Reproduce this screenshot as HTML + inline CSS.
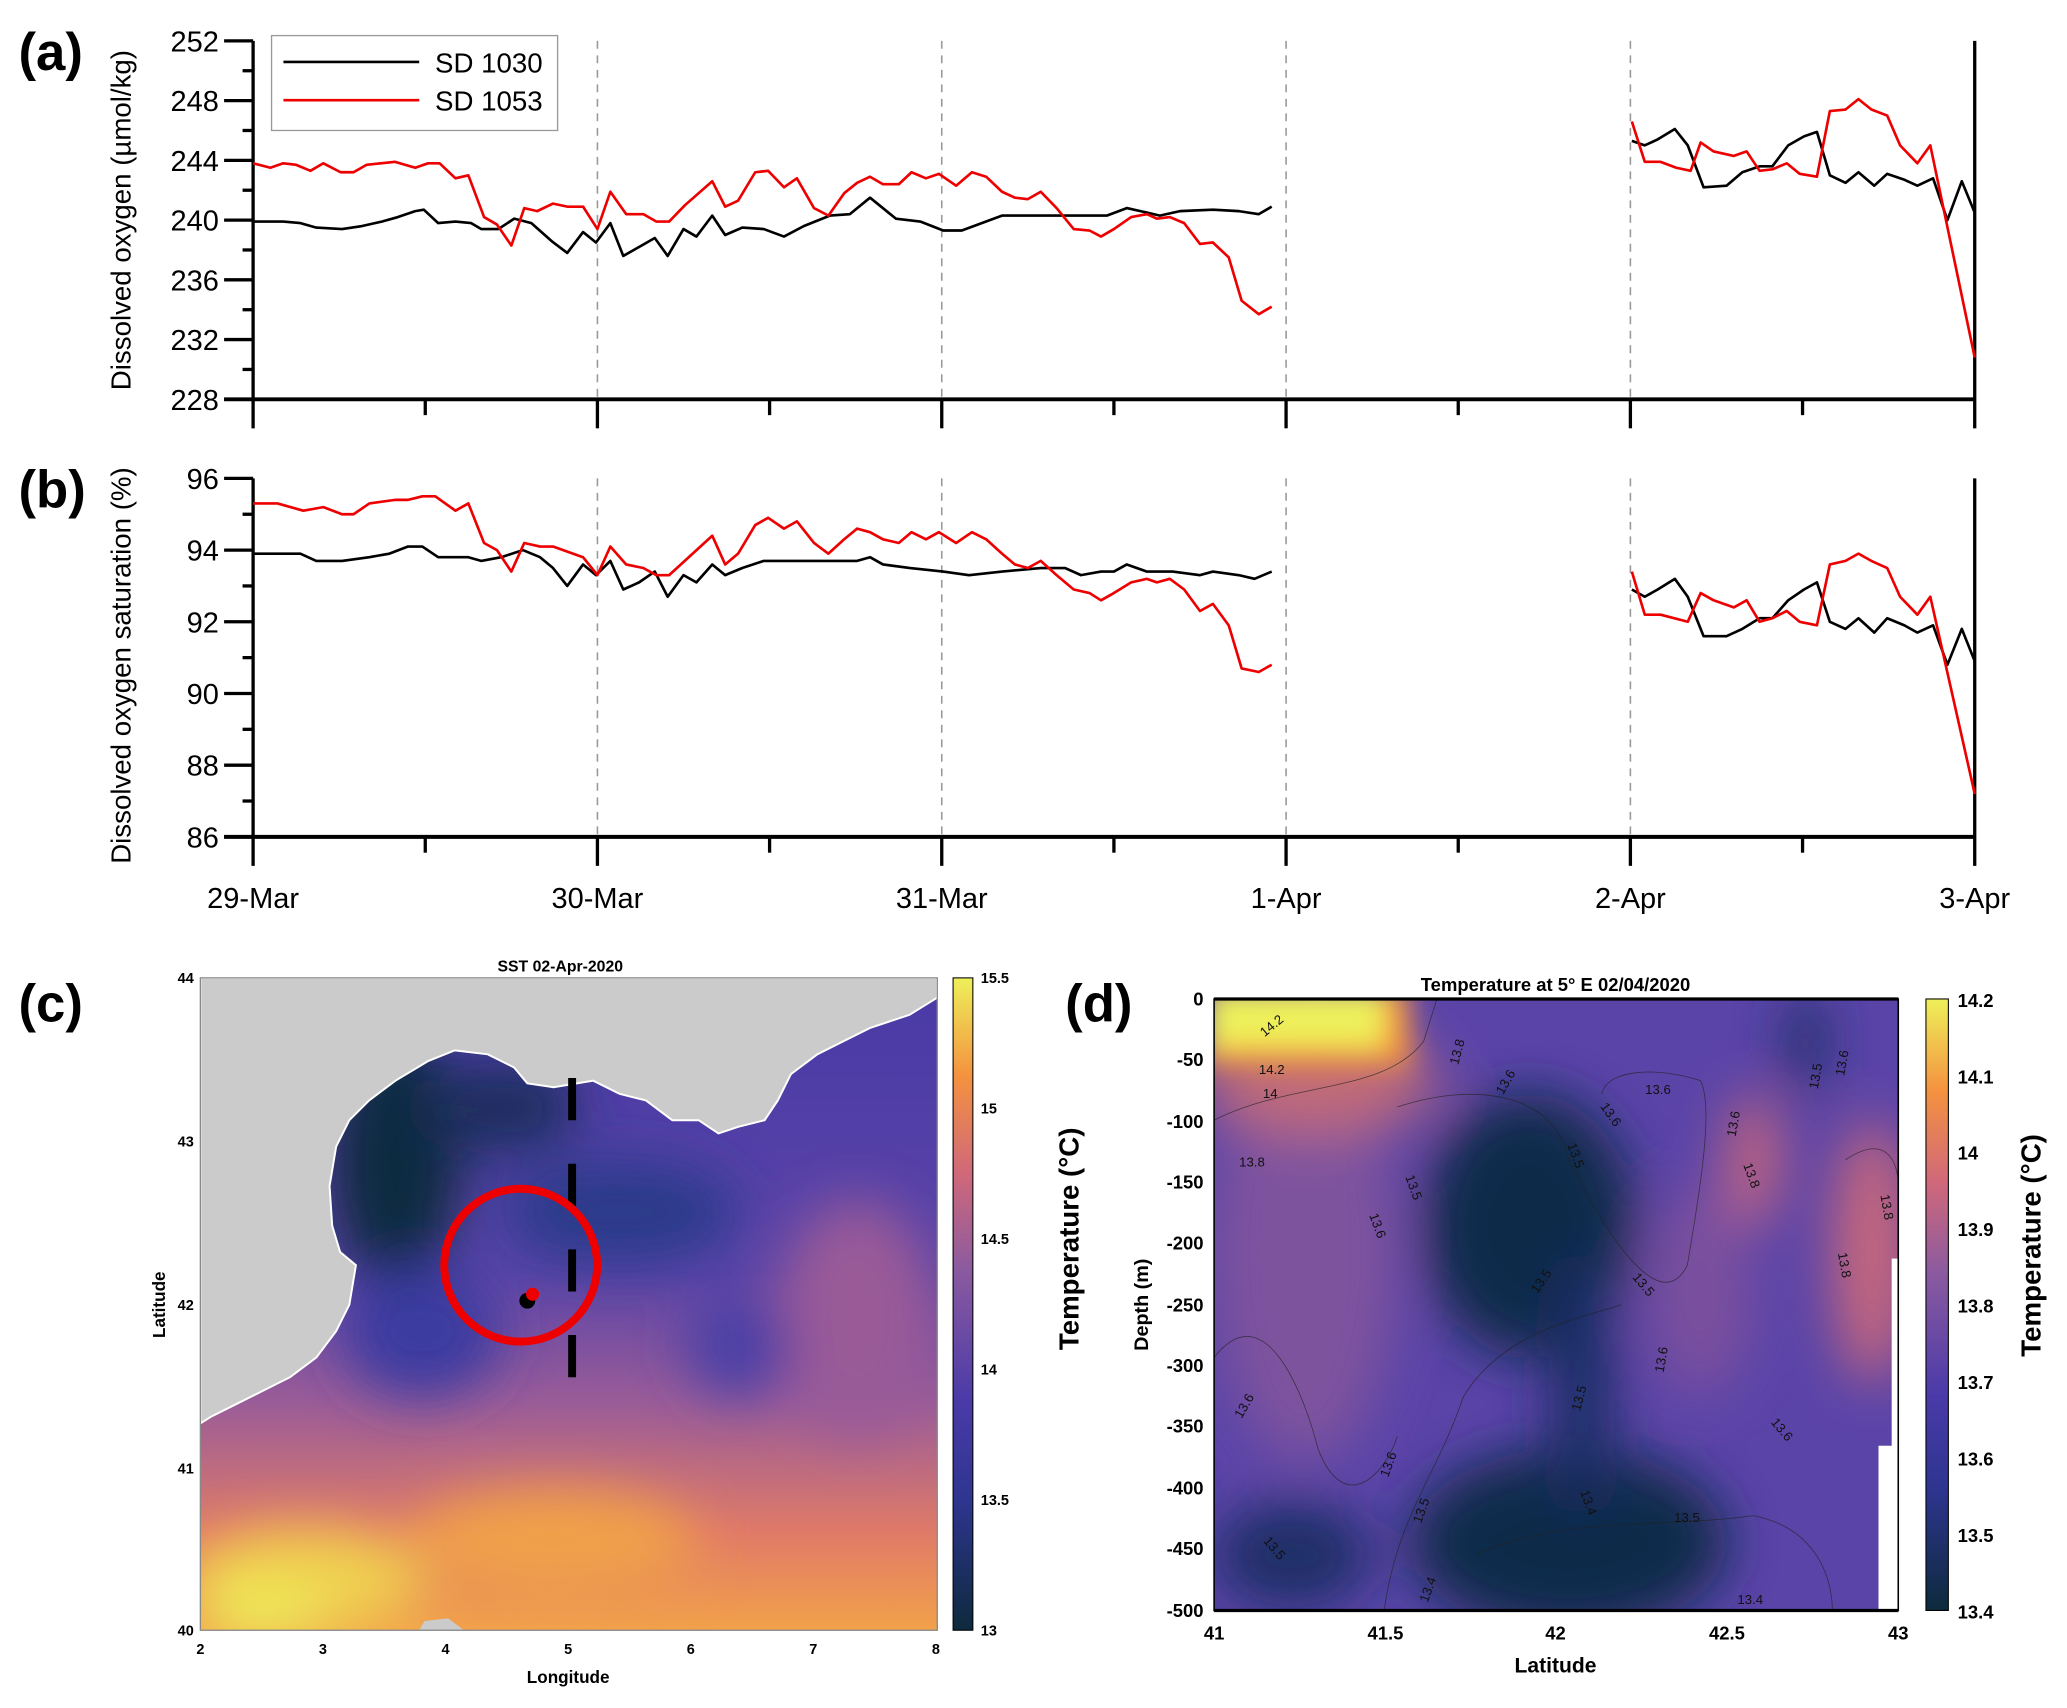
<!DOCTYPE html>
<html><head><meta charset="utf-8"><style>
html,body{margin:0;padding:0;background:#fff}
svg{display:block;font-family:"Liberation Sans",Arial,sans-serif}
</style></head><body>
<svg id="fig" width="2067" height="1708" viewBox="0 0 1568 1296" preserveAspectRatio="none" xmlns="http://www.w3.org/2000/svg">
<defs>
<filter id="b20" x="-50%" y="-50%" width="200%" height="200%"><feGaussianBlur stdDeviation="20"/></filter>
<filter id="b10" x="-50%" y="-50%" width="200%" height="200%"><feGaussianBlur stdDeviation="10"/></filter>
<clipPath id="clipC"><rect x="152" y="742" width="559" height="495"/></clipPath>
<clipPath id="clipD"><rect x="921" y="758" width="519" height="464"/></clipPath>
<linearGradient id="gC" x1="0" y1="0" x2="0" y2="1">
<stop offset="0" stop-color="#4a3aa6"/><stop offset="0.45" stop-color="#5a44a8"/><stop offset="0.65" stop-color="#9a5c98"/><stop offset="0.85" stop-color="#e07a68"/><stop offset="1" stop-color="#f2a14a"/></linearGradient>
<linearGradient id="cbC" x1="0" y1="1" x2="0" y2="0">
<stop offset="0" stop-color="#0d2a3c"/><stop offset="0.2" stop-color="#2e3590"/><stop offset="0.35" stop-color="#4a3aa8"/><stop offset="0.55" stop-color="#8a5aa0"/><stop offset="0.7" stop-color="#d0687a"/><stop offset="0.85" stop-color="#f4923f"/><stop offset="1" stop-color="#eef05a"/></linearGradient>
</defs>
<g id="pa"></g>
<g id="pb"></g>

<!-- Panel c -->
<g>
<text x="14" y="775" font-size="40" font-weight="bold">(c)</text>
<text x="425" y="737" font-size="12" font-weight="bold" text-anchor="middle">SST 02-Apr-2020</text>
<g clip-path="url(#clipC)">
<rect x="152" y="742" width="559" height="495" fill="url(#gC)"/>
<g filter="url(#b20)">
<ellipse cx="300" cy="880" rx="50" ry="100" fill="#0f2b40"/>
<ellipse cx="380" cy="840" rx="60" ry="35" fill="#1c2f5e"/>
<ellipse cx="470" cy="920" rx="90" ry="40" fill="#2a3a8a"/>
<ellipse cx="320" cy="1010" rx="60" ry="50" fill="#3a3aa0"/>
<ellipse cx="230" cy="1200" rx="90" ry="40" fill="#f0d050"/>
<ellipse cx="200" cy="1225" rx="50" ry="20" fill="#eef05a"/>
<ellipse cx="650" cy="1000" rx="60" ry="90" fill="#9a5a98"/>
<ellipse cx="560" cy="1020" rx="40" ry="40" fill="#4a40a6"/>
<ellipse cx="420" cy="1170" rx="110" ry="40" fill="#f0a048"/>
</g>
<path fill="#cbcbcb" stroke="#fff" stroke-width="1.5" d="M152,742 L711,742 L711,757 L690,770 L660,780 L640,790 L620,800 L600,815 L590,835 L580,850 L560,855 L545,860 L530,850 L510,850 L490,835 L470,830 L450,820 L420,825 L400,822 L390,810 L370,800 L345,797 L325,805 L300,820 L280,835 L265,850 L255,870 L250,900 L252,930 L258,950 L270,960 L265,990 L255,1010 L240,1030 L220,1045 L200,1055 L180,1065 L160,1075 L152,1080 Z"/>
<path fill="#cbcbcb" d="M318,1237 L322,1230 L340,1228 L352,1237 Z"/>
</g>
<rect x="152" y="742" width="559" height="495" fill="none" stroke="#888" stroke-width="1"/>
<line x1="434" y1="818" x2="434" y2="1045" stroke="#000" stroke-width="6" stroke-dasharray="32,33"/>
<circle cx="395" cy="960" r="58" fill="none" stroke="#e00" stroke-width="6"/>
<circle cx="400" cy="987" r="6" fill="#000"/>
<circle cx="404" cy="982" r="5" fill="#e00"/>
<g font-size="11" font-weight="bold" text-anchor="end">
<text x="147" y="746">44</text><text x="147" y="870">43</text><text x="147" y="994">42</text><text x="147" y="1118">41</text><text x="147" y="1241">40</text></g>
<g font-size="11" font-weight="bold" text-anchor="middle">
<text x="152" y="1255">2</text><text x="245" y="1255">3</text><text x="338" y="1255">4</text><text x="431" y="1255">5</text><text x="524" y="1255">6</text><text x="617" y="1255">7</text><text x="710" y="1255">8</text></g>
<text x="431" y="1277" font-size="13" font-weight="bold" text-anchor="middle">Longitude</text>
<text transform="translate(125,990) rotate(-90)" font-size="13" font-weight="bold" text-anchor="middle">Latitude</text>
<rect x="723" y="742" width="15" height="495" fill="url(#cbC)" stroke="#000" stroke-width="0.8"/>
<g font-size="11" font-weight="bold">
<text x="744" y="746">15.5</text><text x="744" y="845">15</text><text x="744" y="944">14.5</text><text x="744" y="1043">14</text><text x="744" y="1142">13.5</text><text x="744" y="1241">13</text></g>
<text transform="translate(818,940) rotate(-90)" font-size="21" font-weight="bold" text-anchor="middle">Temperature (°C)</text>
</g>

<!-- Panel d -->
<g>
<text x="808" y="775" font-size="40" font-weight="bold">(d)</text>
<text x="1180" y="752" font-size="14" font-weight="bold" text-anchor="middle">Temperature at 5° E 02/04/2020</text>
<g clip-path="url(#clipD)">
<rect x="921" y="758" width="519" height="464" fill="#5a44a8"/>
<g filter="url(#b20)">
<ellipse cx="990" cy="950" rx="70" ry="160" fill="#7e529e"/>
<ellipse cx="1160" cy="930" rx="80" ry="100" fill="#0f2b48"/>
<ellipse cx="1190" cy="1170" rx="120" ry="70" fill="#10294a"/>
<ellipse cx="1200" cy="1050" rx="25" ry="100" fill="#1c2f66"/>
<ellipse cx="980" cy="1180" rx="60" ry="40" fill="#1c2f66"/>
<ellipse cx="1420" cy="950" rx="30" ry="100" fill="#c8687c"/>
<ellipse cx="1330" cy="880" rx="20" ry="50" fill="#c8687c"/>
<ellipse cx="1290" cy="980" rx="40" ry="80" fill="#7a509e"/>
<ellipse cx="1000" cy="820" rx="90" ry="40" fill="#c06a78"/>
<ellipse cx="1370" cy="790" rx="15" ry="40" fill="#1c2f66"/>
</g>
<g filter="url(#b10)">
<rect x="915" y="750" width="155" height="60" fill="#f4923f"/>
<rect x="915" y="750" width="135" height="45" fill="#eef05a"/>
</g>
<rect x="1435" y="955" width="6" height="270" fill="#fff"/>
<rect x="1425" y="1097" width="16" height="130" fill="#fff"/>
<g fill="none" stroke="#222" stroke-width="0.6" opacity="0.7">
<path d="M921,850 C980,820 1050,830 1080,790 L1090,758"/>
<path d="M1050,1222 C1060,1150 1090,1120 1110,1060 C1140,1010 1200,1000 1230,990"/>
<path d="M1060,840 C1120,820 1180,830 1190,880 C1220,940 1260,1000 1280,960 C1290,900 1300,840 1290,820 C1260,810 1220,810 1215,830"/>
<path d="M921,1030 C960,980 990,1060 1000,1100 C1020,1150 1050,1120 1060,1090"/>
<path d="M1120,1180 C1180,1150 1260,1160 1330,1150 C1380,1160 1390,1200 1390,1222"/>
<path d="M1400,880 C1430,860 1440,880 1440,900"/>
</g>
</g>
<g font-size="10" fill="#111">
<text x="955" y="785" transform="rotate(-40 960 780)">14.2</text>
<text x="955" y="815">14.2</text><text x="958" y="833">14</text>
<text x="940" y="885">13.8</text>
<text x="1092" y="810" transform="rotate(-75 1098 800)">13.8</text>
<text x="1128" y="830" transform="rotate(-60 1135 820)">13.6</text>
<text x="1248" y="830">13.6</text>
<text x="1216" y="845" transform="rotate(55 1220 840)">13.6</text>
<text x="1310" y="865" transform="rotate(-80 1312 860)">13.6</text>
<text x="1365" y="830" transform="rotate(-80 1370 820)">13.5</text>
<text x="1385" y="820" transform="rotate(-80 1390 810)">13.6</text>
<text x="1195" y="880" transform="rotate(70 1200 870)">13.5</text>
<text x="1068" y="900" transform="rotate(70 1072 895)">13.5</text>
<text x="1325" y="890" transform="rotate(70 1328 885)">13.8</text>
<text x="1428" y="915" transform="rotate(80 1432 910)">13.8</text>
<text x="1040" y="930" transform="rotate(70 1045 925)">13.6</text>
<text x="1160" y="980" transform="rotate(-55 1165 975)">13.5</text>
<text x="1240" y="975" transform="rotate(50 1245 970)">13.5</text>
<text x="1395" y="960" transform="rotate(80 1400 955)">13.8</text>
<text x="1252" y="1040" transform="rotate(-80 1258 1035)">13.6</text>
<text x="935" y="1075" transform="rotate(-60 940 1070)">13.6</text>
<text x="1190" y="1070" transform="rotate(-75 1195 1065)">13.5</text>
<text x="1345" y="1085" transform="rotate(50 1350 1080)">13.6</text>
<text x="1045" y="1120" transform="rotate(-70 1050 1115)">13.6</text>
<text x="1070" y="1155" transform="rotate(-70 1075 1150)">13.5</text>
<text x="1200" y="1140" transform="rotate(70 1205 1135)">13.4</text>
<text x="1270" y="1155">13.5</text>
<text x="960" y="1175" transform="rotate(50 965 1170)">13.5</text>
<text x="1075" y="1215" transform="rotate(-70 1080 1210)">13.4</text>
<text x="1318" y="1217">13.4</text>
</g>
<rect x="921" y="758" width="519" height="464" fill="none" stroke="#000" stroke-width="1.2"/>
<line x1="921" y1="758" x2="1440" y2="758" stroke="#000" stroke-width="2.5"/>
<line x1="921" y1="1222" x2="1440" y2="1222" stroke="#000" stroke-width="2.5"/>
<g font-size="14" font-weight="bold" text-anchor="end">
<text x="913" y="763">0</text><text x="913" y="809">-50</text><text x="913" y="856">-100</text><text x="913" y="902">-150</text><text x="913" y="948">-200</text><text x="913" y="995">-250</text><text x="913" y="1041">-300</text><text x="913" y="1087">-350</text><text x="913" y="1134">-400</text><text x="913" y="1180">-450</text><text x="913" y="1227">-500</text></g>
<g font-size="14" font-weight="bold" text-anchor="middle">
<text x="921" y="1244">41</text><text x="1051" y="1244">41.5</text><text x="1180" y="1244">42</text><text x="1310" y="1244">42.5</text><text x="1440" y="1244">43</text></g>
<text x="1180" y="1269" font-size="16" font-weight="bold" text-anchor="middle">Latitude</text>
<text transform="translate(871,990) rotate(-90)" font-size="15" font-weight="bold" text-anchor="middle">Depth (m)</text>
<rect x="1461" y="758" width="17" height="464" fill="url(#cbC)" stroke="#000" stroke-width="0.8"/>
<g font-size="14" font-weight="bold">
<text x="1485" y="764">14.2</text><text x="1485" y="822">14.1</text><text x="1485" y="880">14</text><text x="1485" y="938">13.9</text><text x="1485" y="996">13.8</text><text x="1485" y="1054">13.7</text><text x="1485" y="1112">13.6</text><text x="1485" y="1170">13.5</text><text x="1485" y="1228">13.4</text></g>
<text transform="translate(1548,945) rotate(-90)" font-size="21" font-weight="bold" text-anchor="middle">Temperature (°C)</text>
</g>
</svg>
<script>
// ---- time-series data (hours since 29-Mar 00:00) ----
const doBlackT = [0,2.1,3.3,4.4,6.2,7.6,9.0,10.1,11.3,11.9,12.9,14.1,15.2,15.9,17.1,18.2,19.4,20.8,21.9,23.0,23.9,24.9,25.8,26.9,28.0,28.9,30.0,30.9,32.0,32.9,34.1,35.6,37.0,38.4,40.2,41.6,43.0,44.8,46.5,48.1,49.4,52.2,54.9,57.7,59.5,60.9,62.3,63.2,64.6,66.9,68.7,70.1,71.0,
 96.1,97.0,97.9,99.1,100.0,101.1,102.7,103.8,105.0,105.9,107.0,108.1,109.0,109.9,111.0,111.9,113.0,113.9,115.1,116.0,117.1,118.1,119.1,120];
const doBlackV = [239.9,239.9,239.8,239.5,239.4,239.6,239.9,240.2,240.6,240.7,239.8,239.9,239.8,239.4,239.4,240.1,239.8,238.6,237.8,239.2,238.5,239.8,237.6,238.2,238.8,237.6,239.4,238.9,240.3,239.0,239.5,239.4,238.9,239.6,240.3,240.4,241.5,240.1,239.9,239.3,239.3,240.3,240.3,240.3,240.3,240.8,240.5,240.3,240.6,240.7,240.6,240.4,240.9,
 245.3,245.0,245.4,246.1,245.0,242.2,242.3,243.2,243.6,243.6,245.0,245.6,245.9,243.0,242.5,243.2,242.3,243.1,242.7,242.3,242.8,240.0,242.6,240.5];
const redT = [0,1.2,2.1,3.0,4.0,4.9,6.1,7.0,7.9,9.9,11.3,12.2,13.0,14.1,15.0,16.1,17.0,18.0,18.9,19.8,20.9,21.9,23.0,24.0,24.9,26.0,27.2,28.1,29.0,30.1,32.0,32.9,33.8,35.0,35.9,37.0,37.9,39.1,40.1,41.2,42.1,43.0,43.9,45.0,45.9,46.9,47.8,49.0,50.1,51.1,52.2,53.1,54.0,54.9,56.0,57.2,58.3,59.1,60.0,61.2,62.3,63.0,63.9,64.9,66.0,66.9,68.0,68.9,70.1,71.0];
const doRedV = [243.8,243.5,243.8,243.7,243.3,243.8,243.2,243.2,243.7,243.9,243.5,243.8,243.8,242.8,243.0,240.2,239.7,238.3,240.8,240.6,241.1,240.9,240.9,239.4,241.9,240.4,240.4,239.9,239.9,241.0,242.6,240.9,241.3,243.2,243.3,242.2,242.8,240.8,240.3,241.8,242.5,242.9,242.4,242.4,243.2,242.8,243.1,242.3,243.2,242.9,241.9,241.5,241.4,241.9,240.8,239.4,239.3,238.9,239.4,240.2,240.4,240.1,240.2,239.8,238.4,238.5,237.5,234.6,233.7,234.2];
const redT2 = [96.1,97.0,98.1,99.2,100.2,100.9,101.8,103.2,104.1,105.0,105.9,106.9,107.8,109.0,109.9,111.0,111.9,112.8,113.9,114.8,116.0,116.9,120];
const doRedV2 = [246.6,243.9,243.9,243.5,243.3,245.2,244.6,244.3,244.6,243.3,243.4,243.8,243.1,242.9,247.3,247.4,248.1,247.4,247.0,245.0,243.8,245.0,230.8];
const satBlackT = [0,2.1,3.3,4.4,6.2,8.1,9.5,10.8,11.8,12.9,15.0,15.9,17.3,18.8,20.0,20.9,21.9,23.0,23.9,24.9,25.8,26.9,28.0,28.9,30.0,30.9,32.0,32.9,34.1,35.6,37.5,40.2,42.1,43.0,43.9,45.8,48.1,49.9,52.2,54.9,56.6,57.7,59.1,60.0,60.9,62.3,64.1,66.0,66.9,68.7,69.8,71.0,
 96.1,97.0,97.9,99.1,100.0,101.1,102.7,103.8,105.0,105.9,107.0,108.1,109.0,109.9,111.0,111.9,113.0,113.9,115.1,116.0,117.1,118.1,119.1,120];
const satBlackV = [93.9,93.9,93.9,93.7,93.7,93.8,93.9,94.1,94.1,93.8,93.8,93.7,93.8,94.0,93.8,93.5,93.0,93.6,93.3,93.7,92.9,93.1,93.4,92.7,93.3,93.1,93.6,93.3,93.5,93.7,93.7,93.7,93.7,93.8,93.6,93.5,93.4,93.3,93.4,93.5,93.5,93.3,93.4,93.4,93.6,93.4,93.4,93.3,93.4,93.3,93.2,93.4,
 92.9,92.7,92.9,93.2,92.7,91.6,91.6,91.8,92.1,92.1,92.6,92.9,93.1,92.0,91.8,92.1,91.7,92.1,91.9,91.7,91.9,90.8,91.8,90.9];
const satRedT = [0,1.7,3.5,4.9,6.2,7.0,8.1,9.9,10.8,11.8,12.7,14.1,15.0,16.1,17.0,18.0,18.9,20.0,20.9,23.0,24.0,24.9,26.0,27.2,28.1,29.0,32.0,32.9,33.8,35.0,35.9,37.0,37.9,39.1,40.1,41.2,42.1,43.0,43.9,45.0,45.9,46.9,47.8,49.0,50.1,51.1,52.2,53.1,54.0,54.9,56.0,57.2,58.3,59.1,60.0,61.2,62.3,63.0,63.9,64.9,66.0,66.9,68.0,68.9,70.1,71.0];
const satRedV = [95.3,95.3,95.1,95.2,95.0,95.0,95.3,95.4,95.4,95.5,95.5,95.1,95.3,94.2,94.0,93.4,94.2,94.1,94.1,93.8,93.3,94.1,93.6,93.5,93.3,93.3,94.4,93.6,93.9,94.7,94.9,94.6,94.8,94.2,93.9,94.3,94.6,94.5,94.3,94.2,94.5,94.3,94.5,94.2,94.5,94.3,93.9,93.6,93.5,93.7,93.3,92.9,92.8,92.6,92.8,93.1,93.2,93.1,93.2,92.9,92.3,92.5,91.9,90.7,90.6,90.8];
const satRedT2 = [96.1,97.0,98.1,100.0,100.9,101.8,103.2,104.1,105.0,105.9,106.9,107.8,109.0,109.9,111.0,111.9,112.8,113.9,114.8,116.0,116.9,120];
const satRedV2 = [93.4,92.2,92.2,92.0,92.8,92.6,92.4,92.6,92.0,92.1,92.3,92.0,91.9,93.6,93.7,93.9,93.7,93.5,92.7,92.2,92.7,87.2];
const dayLabels = ["29-Mar","30-Mar","31-Mar","1-Apr","2-Apr","3-Apr"];
const doTicks = [228,232,236,240,244,248,252];
const satTicks = [86,88,90,92,94,96];

const NS="http://www.w3.org/2000/svg";
const X0=192, X1=1498;
const xS = h => X0 + (h/120)*(X1-X0);
function mk(parent, tag, attrs){const e=document.createElementNS(NS,tag);for(const k in attrs)e.setAttribute(k,attrs[k]);parent.appendChild(e);return e;}

function panel(g, top, bot, ymin, ymax, ticks, minorStep, label, ytitle, titleY, showX){
  const yS = v => bot - (v-ymin)/(ymax-ymin)*(bot-top);
  const lbl = mk(g,'text',{x:14,y:top+22,'font-size':40,'font-weight':'bold'});
  lbl.textContent=label;
  
  
  for(let d=1; d<=4; d++){
    const l=mk(g,'line',{x1:xS(d*24),x2:xS(d*24),y1:top,y2:bot,stroke:'#999','stroke-width':1.2,'stroke-dasharray':'6,5'});
    
    
  }
  mk(g,'line',{x1:X0,x2:X0,y1:top,y2:bot+22,stroke:'#000','stroke-width':2.5});
  mk(g,'line',{x1:X1,x2:X1,y1:top,y2:bot+22,stroke:'#000','stroke-width':2.5});
  mk(g,'line',{x1:X0-22,x2:X1,y1:bot,y2:bot,stroke:'#000','stroke-width':3});
  for(let v=ymin; v<=ymax+1e-9; v+=minorStep){
    const major = ticks.includes(Math.round(v*100)/100);
    mk(g,'line',{x1:X0-(major?22:8),x2:X0,y1:yS(v),y2:yS(v),stroke:'#000','stroke-width':2.5});
  }
  ticks.forEach(v=>{
    const t=mk(g,'text',{x:X0-26,y:yS(v)+8,'font-size':22,'text-anchor':'end'});
    t.textContent=v;
    
    
  });
  for(let h=12; h<120; h+=12){
    const major = h%24===0;
    mk(g,'line',{x1:xS(h),x2:xS(h),y1:bot,y2:bot+(major?22:12),stroke:'#000','stroke-width':2.5});
  }
  if(showX){
    dayLabels.forEach((s,i)=>{
      const t=mk(g,'text',{x:xS(i*24),y:bot+54,'font-size':22,'text-anchor':'middle'});
      t.textContent=s;
      
      
    });
  }
  const yt=mk(g,'text',{transform:`translate(99,${titleY}) rotate(-90)`,'font-size':21,'text-anchor':'middle'});
  yt.textContent=ytitle;
  
  
  return yS;
}
function series(g, ts, vs, yS, color, name){
  let d='', prev=null;
  ts.forEach((t,i)=>{
    d += (prev===null || t-prev>10 ? 'M':'L') + xS(t).toFixed(1)+','+yS(vs[i]).toFixed(1)+' ';
    prev=t;
  });
  const p=mk(g,'path',{d:d,fill:'none',stroke:color,'stroke-width':2,'stroke-linejoin':'round'});
  
  
}
const pa=document.getElementById('pa'), pb=document.getElementById('pb');
const yA = panel(pa,31,303,228,252,doTicks,2,'(a)','Dissolved oxygen (µmol/kg)',167,false);
series(pa,doBlackT,doBlackV,yA,'#000','line-sd1030-oxygen');
series(pa,redT,doRedV,yA,'#e00','line-sd1053-oxygen');
series(pa,redT2,doRedV2,yA,'#e00','line-sd1053-oxygen-late');
const yB = panel(pb,363,635,86,96,satTicks,1,'(b)','Dissolved oxygen saturation (%)',505,true);
series(pb,satBlackT,satBlackV,yB,'#000','line-sd1030-saturation');
series(pb,satRedT,satRedV,yB,'#e00','line-sd1053-saturation');
series(pb,satRedT2,satRedV2,yB,'#e00','line-sd1053-saturation-late');
// legend
const lg=mk(pa,'g',{});


mk(lg,'rect',{x:206,y:27,width:217,height:72,fill:'#fff',stroke:'#999','stroke-width':1});
mk(lg,'line',{x1:215,x2:318,y1:47,y2:47,stroke:'#000','stroke-width':2});
mk(lg,'line',{x1:215,x2:318,y1:76,y2:76,stroke:'#e00','stroke-width':2});
const l1=mk(lg,'text',{x:330,y:55,'font-size':21});l1.textContent='SD 1030';


const l2=mk(lg,'text',{x:330,y:84,'font-size':21});l2.textContent='SD 1053';


</script>
</body></html>
